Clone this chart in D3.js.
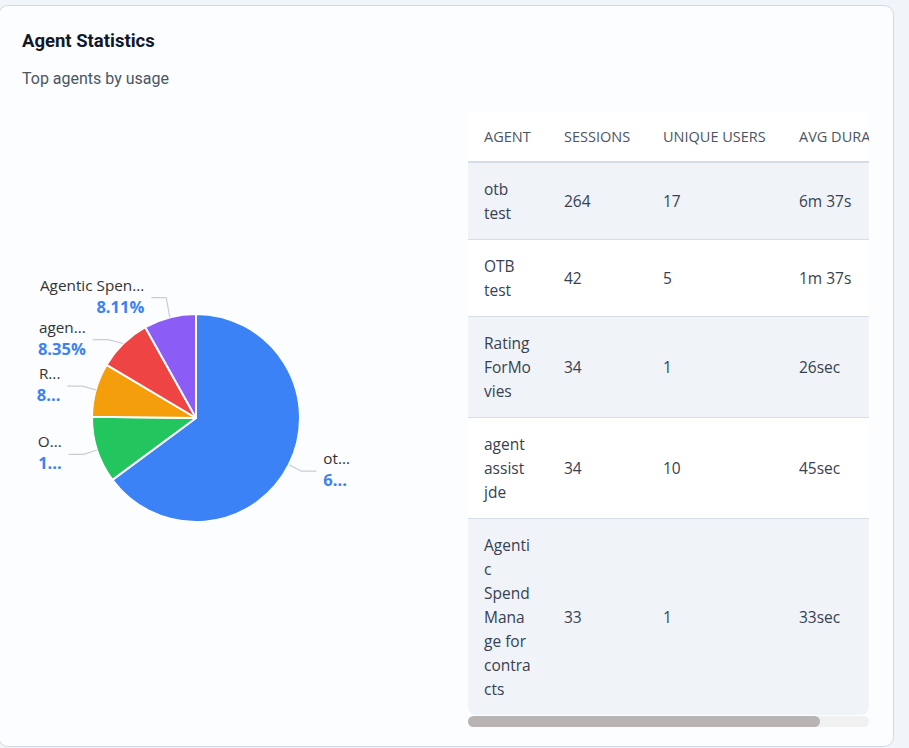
<!DOCTYPE html>
<meta charset="utf-8">
<script src="https://d3js.org/d3.v7.min.js"></script>
<style>
  body { margin: 0; background: #f1f4f9; width: 909px; height: 748px; overflow: hidden; position: relative; }
  #card { position: absolute; left: -2px; top: 5px; width: 896px; height: 742px; box-sizing: border-box;
          border: 1px solid #d3d9e2; border-radius: 10px; background: #fcfdff; }
  #title { position: absolute; left: 22px; top: 30px; font: 700 18.5px Roboto, sans-serif; color: #111827; }
  #subtitle { position: absolute; left: 22px; top: 69px; font: 400 16px Roboto, sans-serif; color: #4b5563; }
  #pie { position: absolute; left: 0; top: 0; }
  #tablewrap { position: absolute; left: 468px; top: 112px; width: 401px; overflow: hidden; border-radius: 8px; }
  #track { position: absolute; left: 468px; top: 716px; width: 401px; height: 11px; background: #f1f1f1; border-radius: 6px; }
  #thumb { position: absolute; left: 0; top: 0; height: 11px; background: #b8b4b4; border-radius: 6px; }
  table { border-collapse: collapse; table-layout: fixed; font-family: "Open Sans", sans-serif; }
  th { text-align: left; font-size: 14.5px; font-weight: 500; color: #4b5563; padding: 14px 16px; line-height: 21px;
       background: #fff; border-bottom: 2px solid #d6dde7; white-space: nowrap; overflow: hidden; }
  td { font-size: 15.5px; line-height: 24px; color: #374151; padding: 14px 16px; border-bottom: 1px solid #d6dde7;
       vertical-align: middle; overflow-wrap: anywhere; }
  tr:last-child td { border-bottom: none; }
  tr.odd td { background: #f0f3f8; }
  tr.even td { background: #fff; }
</style>
<body>
<div id="card"></div>
<div id="title">Agent Statistics</div>
<div id="subtitle">Top agents by usage</div>
<svg id="pie" width="460" height="740"></svg>
<div id="tablewrap"></div>
<div id="track"><div id="thumb"></div></div>
<script>

// data
var agents = ["otb test", "OTB test", "RatingForMovies", "agent assist jde", "Agentic Spend Manage for contracts"];
var sessions = [264, 42, 34, 34, 33];
var uniqueUsers = [17, 5, 1, 10, 1];
var avgDuration = ["6m 37s", "1m 37s", "26sec", "45sec", "33sec"];
var columns = ["AGENT", "SESSIONS", "UNIQUE USERS", "AVG DURATION"];

var colors = ["#3b82f6", "#22c55e", "#f59e0b", "#ef4444", "#8b5cf6"];
// label box widths, labels get truncated with "..." like the original
var labelWidth = [30, 28, 28, 50, 108];

// ---- pie ----
var cx = 196, cy = 418, r = 104;
var svg = d3.select("#pie");
var g = svg.append("g").attr("transform", "translate(" + cx + "," + cy + ")");

var total = d3.sum(sessions);
var pie = d3.pie().sort(null).value(function(d) { return d; });
var arcs = pie(sessions);
var arc = d3.arc().innerRadius(0).outerRadius(r);

g.selectAll("path.slice")
  .data(arcs)
  .enter().append("path")
    .attr("class", "slice")
    .attr("d", arc)
    .attr("fill", function(d, i) { return colors[i]; })
    .attr("stroke", "#fff")
    .attr("stroke-width", 2)
    .attr("stroke-linejoin", "round");

// label positions
var len1 = 14, len2 = 15, gap = 7;
var R = r + len1;
var labels = arcs.map(function(d, i) {
  var a = (d.startAngle + d.endAngle) / 2;
  var sx = Math.sin(a), sy = -Math.cos(a);
  return {
    i: i,
    p0: [sx * r, sy * r],
    nx: sx * R,
    y: sy * R,
    side: sx >= 0 ? 1 : -1
  };
});

// push labels apart on each side
[1, -1].forEach(function(side) {
  var list = labels.filter(function(l) { return l.side === side; }).sort(function(a, b) { return a.y - b.y; });
  var minGap = 42;
  for (var k = 0; k < 20; k++) {
    for (var j = 1; j < list.length; j++) {
      var d = list[j].y - list[j - 1].y;
      if (d < minGap) {
        var s = (minGap - d) / 2;
        list[j - 1].y -= s;
        list[j].y += s;
      }
    }
  }
});

var lg = g.append("g");
labels.forEach(function(l) {
  // elbow sits on the outer circle at the label's (shifted) height
  var x1 = Math.abs(l.y) < R ? l.side * Math.sqrt(R * R - l.y * l.y) : l.nx;
  var p1 = [x1, l.y];
  var p2 = [x1 + l.side * len2, l.y];
  lg.append("path")
    .attr("d", d3.line()([l.p0, p1, p2]))
    .attr("fill", "none")
    .attr("stroke", "#c9ced6")
    .attr("stroke-width", 1.2);

  var tx = p2[0] + l.side * gap;
  var anchor = l.side > 0 ? "start" : "end";
  var pct = (sessions[l.i] / total * 100).toFixed(2) + "%";

  var t1 = lg.append("text")
    .attr("x", tx).attr("y", l.y - 7)
    .attr("text-anchor", anchor)
    .style("font", "400 15.3px 'Open Sans', sans-serif")
    .attr("fill", "#333");
  fit(t1, agents[l.i], labelWidth[l.i]);

  var t2 = lg.append("text")
    .attr("x", tx).attr("y", l.y + 15)
    .attr("text-anchor", anchor)
    .style("font", "700 16.5px 'Open Sans', sans-serif")
    .attr("fill", "#3b82f6");
  fit(t2, pct, labelWidth[l.i]);
});

function fit(sel, str, w) {
  sel.text(str);
  if (sel.node().getComputedTextLength() <= w) return;
  for (var n = str.length - 1; n > 0; n--) {
    sel.text(str.slice(0, n).trim() + "...");
    if (sel.node().getComputedTextLength() <= w) return;
  }
  sel.text(str[0] + "...");
}

// ---- table ----
var colWidth = [80, 99, 136, 142];
var tableWidth = d3.sum(colWidth);
var table = d3.select("#tablewrap").append("table").style("width", tableWidth + "px");
table.append("colgroup").selectAll("col")
  .data(colWidth).enter().append("col")
    .style("width", function(d) { return d + "px"; });

table.append("thead").append("tr").selectAll("th")
  .data(columns).enter().append("th")
    .text(function(d) { return d; });

var rows = agents.map(function(a, i) { return [a, sessions[i], uniqueUsers[i], avgDuration[i]]; });
table.append("tbody").selectAll("tr")
  .data(rows).enter().append("tr")
    .attr("class", function(d, i) { return i % 2 === 0 ? "odd" : "even"; })
  .selectAll("td")
  .data(function(d) { return d; }).enter().append("td")
    .text(function(d) { return d; });

// horizontal scrollbar (the table is wider than its box)
var wrapW = 401;
d3.select("#thumb").style("width", Math.round(wrapW * wrapW / tableWidth) + "px");

</script>
</body>
